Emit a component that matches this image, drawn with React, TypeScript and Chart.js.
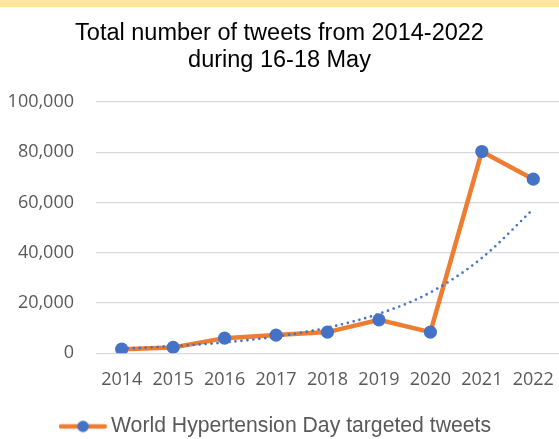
import React, { useEffect, useRef } from "react";
import { Chart, registerables } from "chart.js";

Chart.register(...registerables);

const years = ["2014", "2015", "2016", "2017", "2018", "2019", "2020", "2021", "2022"];
const tweetCounts = [1600, 2300, 6000, 7200, 8400, 13300, 8400, 80300, 69300];
const trendValues = [1800, 2800, 4300, 6600, 10200, 15700, 24200, 37900, 57400];
const titleLines = ["Total number of tweets from 2014-2022", "during 16-18 May"];
const seriesLabel = "World Hypertension Day targeted tweets";
const trendLabel = "Expon. (World Hypertension Day targeted tweets)";
const yMax = 100000;
const yStep = 20000;

const ORANGE = "#ED7D31";
const BLUE = "#4472C4";
const GRAY_TEXT = "#595959";

function makeLegendSymbol(): HTMLCanvasElement {
  const c = document.createElement("canvas");
  c.width = 50;
  c.height = 14;
  const ctx = c.getContext("2d")!;
  ctx.strokeStyle = ORANGE;
  ctx.lineWidth = 4.5;
  ctx.lineCap = "round";
  ctx.beginPath();
  ctx.moveTo(2, 7);
  ctx.lineTo(45.6, 7);
  ctx.stroke();
  ctx.fillStyle = BLUE;
  ctx.beginPath();
  ctx.arc(23.8, 7, 5.8, 0, Math.PI * 2);
  ctx.fill();
  return c;
}

export default function App() {
  const canvasRef = useRef<HTMLCanvasElement | null>(null);

  useEffect(() => {
    const canvas = canvasRef.current;
    if (!canvas) return;
    const symbol = makeLegendSymbol();
    const chart = new Chart(canvas, {
      type: "line",
      data: {
        labels: years,
        datasets: [
          {
            label: seriesLabel,
            data: tweetCounts,
            borderColor: ORANGE,
            backgroundColor: BLUE,
            borderWidth: 4.5,
            pointRadius: 6.6,
            pointBackgroundColor: BLUE,
            pointBorderColor: BLUE,
            pointBorderWidth: 0,
            tension: 0,
            order: 2,
          },
          {
            label: trendLabel,
            data: trendValues,
            borderColor: BLUE,
            borderWidth: 2.7,
            borderDash: [0, 6],
            borderCapStyle: "round",
            pointRadius: 0,
            cubicInterpolationMode: "monotone",
            fill: false,
            order: 1,
          },
        ],
      },
      options: {
        responsive: false,
        animation: false,
        devicePixelRatio: 1,
        layout: { padding: 0, autoPadding: false },
        plugins: {
          title: {
            display: true,
            text: titleLines,
            color: "#000000",
            font: { family: "'Liberation Sans', Arial, sans-serif", size: 23.5, weight: "normal", lineHeight: 1.15 },
            padding: { top: 20, bottom: 28 },
          },
          legend: {
            display: true,
            position: "bottom",
            labels: {
              usePointStyle: true,
              pointStyle: symbol as any,
              pointStyleWidth: 32.4,
              color: GRAY_TEXT,
              padding: 10,
              font: { family: "'Liberation Sans', Arial, sans-serif", size: 21.2 },
              generateLabels: () => [
                {
                  text: seriesLabel,
                  datasetIndex: 0,
                  pointStyle: symbol as any,
                  fillStyle: BLUE,
                  strokeStyle: ORANGE,
                  lineWidth: 0,
                  hidden: false,
                  fontColor: GRAY_TEXT,
                } as any,
              ],
            },
          },
          tooltip: { enabled: false },
        },
        scales: {
          x: {
            offset: true,
            grid: { display: false, drawTicks: false },
            border: { display: false },
            ticks: {
              color: GRAY_TEXT,
              padding: 15.5,
              font: { family: "'Open Sans', sans-serif", size: 18 },
              maxRotation: 0,
            },
            afterFit: (scale: any) => {
              scale.paddingLeft = 0;
              scale.paddingRight = 0;
            },
          },
          y: {
            min: 0,
            max: yMax,
            grid: { color: "#D9D9D9", lineWidth: 1.3, drawTicks: false },
            border: { display: false },
            ticks: {
              stepSize: yStep,
              color: GRAY_TEXT,
              padding: 22,
              font: { family: "'Open Sans', sans-serif", size: 18 },
              callback: (v) => Number(v).toLocaleString("en-US"),
            },
            afterFit: (scale) => {
              scale.width = 96;
            },
          },
        },
      },
    });
    return () => chart.destroy();
  }, []);

  return (
    <div
      style={{
        position: "fixed",
        left: 0,
        top: 0,
        width: 559,
        height: 439,
        overflow: "hidden",
        background: "#ffffff",
      }}
    >
      <canvas ref={canvasRef} width={559} height={447} style={{ display: "block" }} />
      <div
        style={{
          position: "absolute",
          left: 0,
          top: 0,
          width: 559,
          height: 7,
          background: "#FFE699",
        }}
      />
    </div>
  );
}
